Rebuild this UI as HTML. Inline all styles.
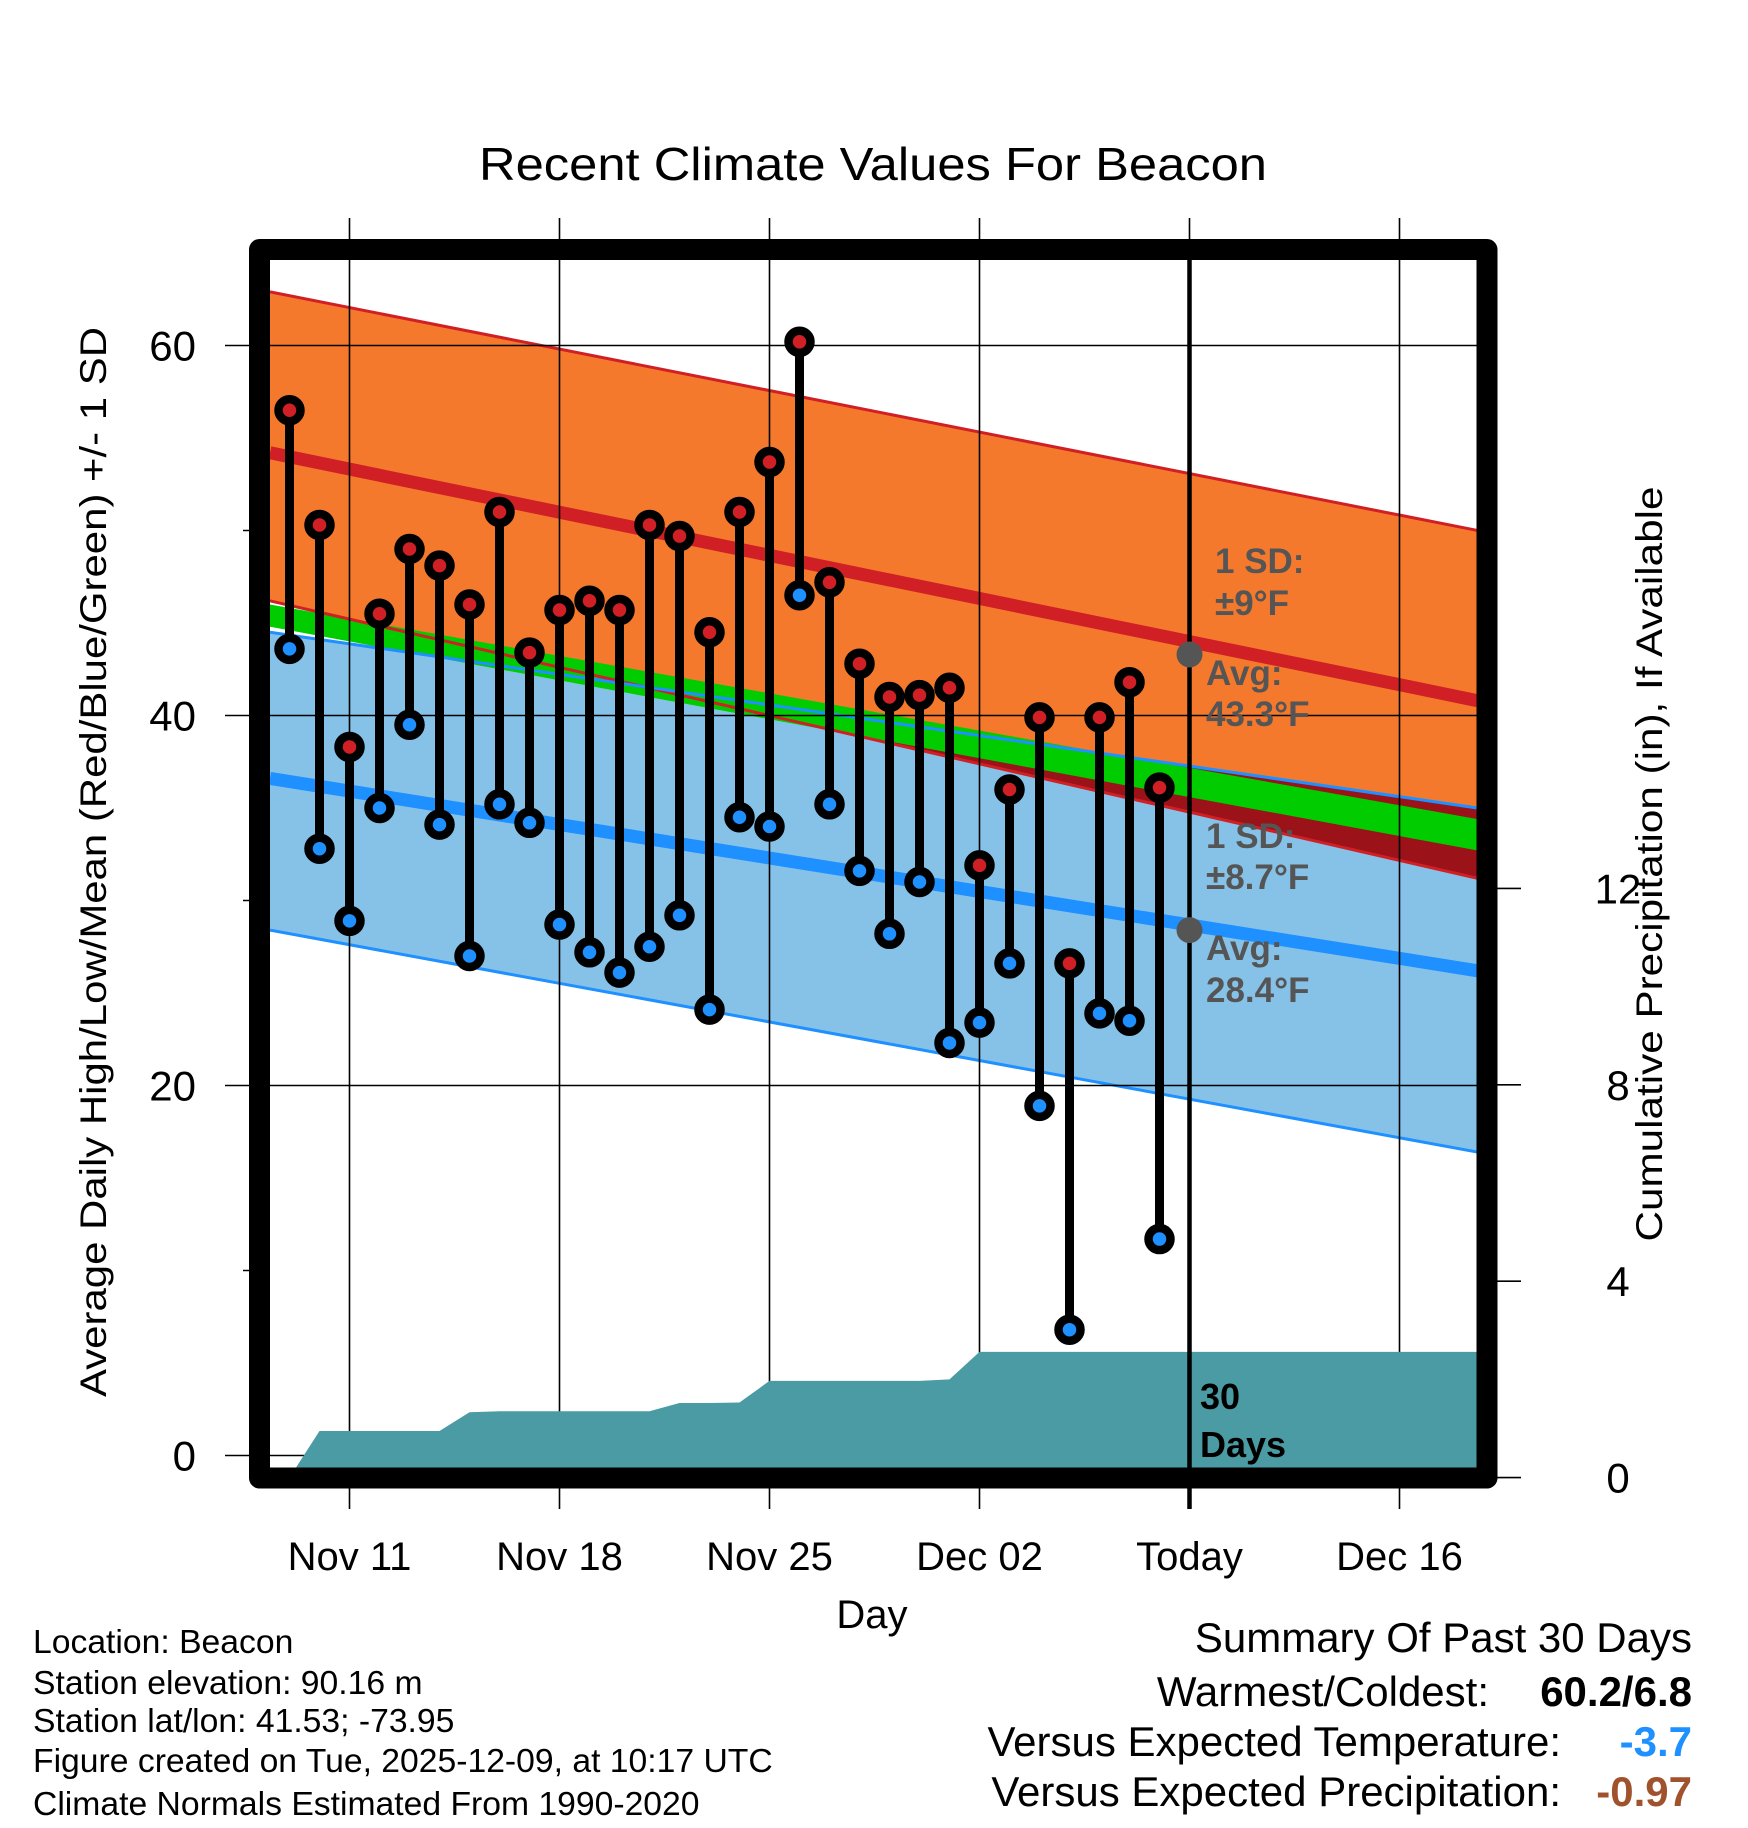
<!DOCTYPE html>
<html><head><meta charset="utf-8"><title>Recent Climate Values For Beacon</title>
<style>html,body{margin:0;padding:0;background:#fff}svg{display:block;font-family:"Liberation Sans",Arial,sans-serif}</style></head>
<body>
<svg id="chart" xmlns="http://www.w3.org/2000/svg" width="1748" height="1828" viewBox="0 0 1748 1828">
<defs><clipPath id="plotclip"><rect x="270" y="260" width="1207" height="1208"/></clipPath></defs>
<rect x="0" y="0" width="1748" height="1828" fill="#fff"/>
<g id="bands" clip-path="url(#plotclip)"></g>
<g id="grid"></g>
<g id="precip" clip-path="url(#plotclip)"></g>
<g id="marks"></g>
<g id="frame"></g>
<g id="texts"></g>
</svg>
<script>
// ---- data ----
const dayOffsets = [-2,-1,0,1,2,3,4,5,6,7,8,9,10,11,12,13,14,15,16,17,18,19,20,21,22,23,24,25,26,27];
const highs = [56.5,50.3,38.3,45.5,49.0,48.1,46.0,51.0,43.4,45.7,46.2,45.7,50.3,49.7,44.5,51.0,53.7,60.2,47.2,42.8,41.0,41.1,41.5,31.9,36.0,39.9,26.6,39.9,41.8,36.1];
const lows = [43.6,32.8,28.9,35.0,39.5,34.1,27.0,35.2,34.2,28.7,27.2,26.1,27.5,29.2,24.1,34.5,34.0,46.5,35.2,31.6,28.2,31.0,22.3,23.4,26.6,18.9,6.8,23.9,23.5,11.7];
const precipCum = [0,0.95,0.95,0.95,0.95,0.95,1.33,1.35,1.35,1.35,1.35,1.35,1.35,1.52,1.52,1.53,1.97,1.97,1.97,1.97,1.97,1.97,2.0,2.56,2.56,2.56,2.56,2.56,2.56,2.56];
const normDays = [-2.65, 37.6];
const highUpper = [62.9, 50.0];
const highMean = [54.2, 40.8];
const highLower = [46.2, 31.2];
const lowUpper = [44.5, 35.0];
const lowMean = [36.6, 26.2];
const lowLower = [28.4, 16.4];
const meanTop = [46.0, 34.4];
const meanBottom = [44.8, 32.7];
const todayOffset = 28;
const todayAvgHigh = 43.3;
const todayAvgLow = 28.4;
const xTickOffsets = [0,7,14,21,28,35];
const xTickLabels = ["Nov 11","Nov 18","Nov 25","Dec 02","Today","Dec 16"];
const yTicks = [0,20,40,60];
const yMinorTicks = [10,30,50];
const pTicks = [0,4,8,12];

// ---- axes ----
const NS="http://www.w3.org/2000/svg";
const X = d => 349.5 + 30*d;
const Y = t => 1455.5 - 18.5*t;
const YP = p => 1477.6 - 49.1*p;
const PL = 270, PR = 1477, PT = 260, PB = 1468;
function mk(tag, attrs, parent){const el=document.createElementNS(NS,tag);for(const k in attrs)el.setAttribute(k,attrs[k]);parent.appendChild(el);return el;}
const gBands=document.getElementById('bands'),gGrid=document.getElementById('grid'),gPrecip=document.getElementById('precip'),gMarks=document.getElementById('marks'),gFrame=document.getElementById('frame'),gTexts=document.getElementById('texts');
function lerp(arr,d){const t=(d-normDays[0])/(normDays[1]-normDays[0]);return arr[0]+(arr[1]-arr[0])*t;}
const d0=normDays[0],d1=normDays[1];
function pts(list){return list.map(p=>p[0].toFixed(1)+','+p[1].toFixed(1)).join(' ');}
function bandPoly(a,b){return pts([[X(d0),Y(a[0])],[X(d1),Y(a[1])],[X(d1),Y(b[1])],[X(d0),Y(b[0])]]);}
let el;
el=mk('polygon',{points:bandPoly(lowUpper,lowLower),fill:'#86c2e8'},gBands);


el=mk('polygon',{points:bandPoly(highUpper,highLower),fill:'#f5792d'},gBands);


const N=80;const ovTop=[],ovBot=[];
for(let i=0;i<=N;i++){const d=d0+(d1-d0)*i/N;const a=lerp(lowUpper,d),b=lerp(highLower,d);if(a>b){ovTop.push([X(d),Y(a)]);ovBot.unshift([X(d),Y(b)]);}}
if(ovTop.length){el=mk('polygon',{points:pts(ovTop.concat(ovBot)),fill:'#9b1218'},gBands);

}
el=mk('polygon',{points:bandPoly(meanTop,meanBottom),fill:'#00cc00'},gBands);


function line(arr,color,w,name){el=mk('line',{x1:X(d0),y1:Y(arr[0]),x2:X(d1),y2:Y(arr[1]),stroke:color,'stroke-width':w},gBands);

}
line(highUpper,'#d02025',3,'high-upper-sd-line');
line(highLower,'#d02025',3,'high-lower-sd-line');
line(lowUpper,'#1e90ff',3,'low-upper-sd-line');
line(lowLower,'#1e90ff',3,'low-lower-sd-line');
line(highMean,'#d02025',13,'normal-high-line');
line(lowMean,'#1e90ff',13,'normal-low-line');

xTickOffsets.forEach(d=>{el=mk('line',{x1:X(d),y1:218,x2:X(d),y2:1509,stroke:'#000','stroke-width':1.6},gGrid);

});
yTicks.forEach(t=>{el=mk('line',{x1:225,y1:Y(t),x2:PR,y2:Y(t),stroke:'#000','stroke-width':1.6},gGrid);

});
yMinorTicks.forEach(t=>{el=mk('line',{x1:243,y1:Y(t),x2:262,y2:Y(t),stroke:'#000','stroke-width':1.6},gGrid);

});
pTicks.forEach(p=>{el=mk('line',{x1:1490,y1:YP(p),x2:1521,y2:YP(p),stroke:'#000','stroke-width':1.6},gGrid);

});

const pp=[];precipCum.forEach((p,i)=>pp.push([X(dayOffsets[i]),YP(p)]));
pp.push([PR+5,YP(precipCum[precipCum.length-1])]);pp.push([PR+5,YP(0)+20]);pp.push([X(dayOffsets[0]),YP(0)+20]);
el=mk('polygon',{points:pts(pp),fill:'#4a9ba3'},gPrecip);



el=mk('line',{x1:X(todayOffset),y1:258,x2:X(todayOffset),y2:1509,stroke:'#000','stroke-width':4.5},gMarks);



dayOffsets.forEach((d,i)=>{
 el=mk('line',{x1:X(d),y1:Y(highs[i]),x2:X(d),y2:Y(lows[i]),stroke:'#000','stroke-width':9},gMarks);
 
 
});
dayOffsets.forEach((d,i)=>{
 el=mk('circle',{cx:X(d),cy:Y(highs[i]),r:11,fill:'#d02025',stroke:'#000','stroke-width':8.5},gMarks);
 
 
 el=mk('circle',{cx:X(d),cy:Y(lows[i]),r:11,fill:'#1e90ff',stroke:'#000','stroke-width':8.5},gMarks);
 
 
});
el=mk('circle',{cx:X(todayOffset),cy:Y(todayAvgHigh),r:13,fill:'#555'},gMarks);


el=mk('circle',{cx:X(todayOffset),cy:Y(todayAvgLow),r:13,fill:'#555'},gMarks);



el=mk('rect',{x:259.5,y:249.5,width:1227.5,height:1228.5,fill:'none',stroke:'#000','stroke-width':21,'stroke-linejoin':'round'},gFrame);



function tx(s,x,y,o,name){const a=Object.assign({x:x,y:y,'font-size':40,fill:'#000'},o||{});el=mk('text',a,gTexts);el.textContent=s;

return el;}
tx('Recent Climate Values For Beacon',873,180,{'text-anchor':'middle','font-size':46,textLength:788,lengthAdjust:'spacingAndGlyphs'},'chart-title');
xTickOffsets.forEach((d,i)=>tx(xTickLabels[i],X(d),1570,{'text-anchor':'middle'},'x-tick-label'));
yTicks.forEach(t=>tx(String(t),196,Y(t)+15,{'text-anchor':'end','font-size':42},'y-tick-label'));
pTicks.forEach(p=>tx(String(p),1618,YP(p)+15,{'text-anchor':'middle','font-size':42},'precip-tick-label'));
tx('Day',872,1628,{'text-anchor':'middle'},'x-axis-title');
tx('Average Daily High/Low/Mean (Red/Blue/Green) +/- 1 SD',0,0,{'text-anchor':'middle','font-size':37,transform:'translate(106,862) rotate(-90)',textLength:1070,lengthAdjust:'spacingAndGlyphs'},'y-axis-title');
tx('Cumulative Precipitation (in), If Available',0,0,{'text-anchor':'middle','font-size':37,transform:'translate(1662,864) rotate(-90)',textLength:755,lengthAdjust:'spacingAndGlyphs'},'precip-axis-title');
const g={fill:'#555','font-weight':'bold','font-size':35};
tx('1 SD:',1215,573,g,'high-sd-label');
tx('±9°F',1215,615,g,'high-sd-value');
tx('Avg:',1206,685,g,'high-avg-label');
tx('43.3°F',1206,726,g,'high-avg-value');
tx('1 SD:',1206,848,g,'low-sd-label');
tx('±8.7°F',1206,889,g,'low-sd-value');
tx('Avg:',1206,960,g,'low-avg-label');
tx('28.4°F',1206,1002,g,'low-avg-value');
tx('30',1200,1409,{'font-weight':'bold','font-size':36},'days-count');
tx('Days',1200,1457,{'font-weight':'bold','font-size':36},'days-label');
const info=['Location: Beacon','Station elevation: 90.16 m','Station lat/lon: 41.53; -73.95','Figure created on Tue, 2025-12-09, at 10:17 UTC','Climate Normals Estimated From 1990-2020'];
const infoY=[1653,1694,1732,1772,1815];
info.forEach((s,i)=>tx(s,33,infoY[i],{'font-size':33.7},'station-info'));
tx('Summary Of Past 30 Days',1692,1652,{'text-anchor':'end','font-size':42},'summary-title');
tx('Warmest/Coldest:',1489,1706,{'text-anchor':'end','font-size':42},'warmest-coldest-label');
tx('60.2/6.8',1692,1706,{'text-anchor':'end','font-size':42,'font-weight':'bold'},'warmest-coldest-value');
tx('Versus Expected Temperature:',1561,1756,{'text-anchor':'end','font-size':42},'temp-departure-label');
tx('-3.7',1692,1756,{'text-anchor':'end','font-size':42,'font-weight':'bold',fill:'#1e90ff'},'temp-departure-value');
tx('Versus Expected Precipitation:',1561,1806,{'text-anchor':'end','font-size':42},'precip-departure-label');
tx('-0.97',1692,1806,{'text-anchor':'end','font-size':42,'font-weight':'bold',fill:'#a0522d'},'precip-departure-value');
</script>
</body></html>
